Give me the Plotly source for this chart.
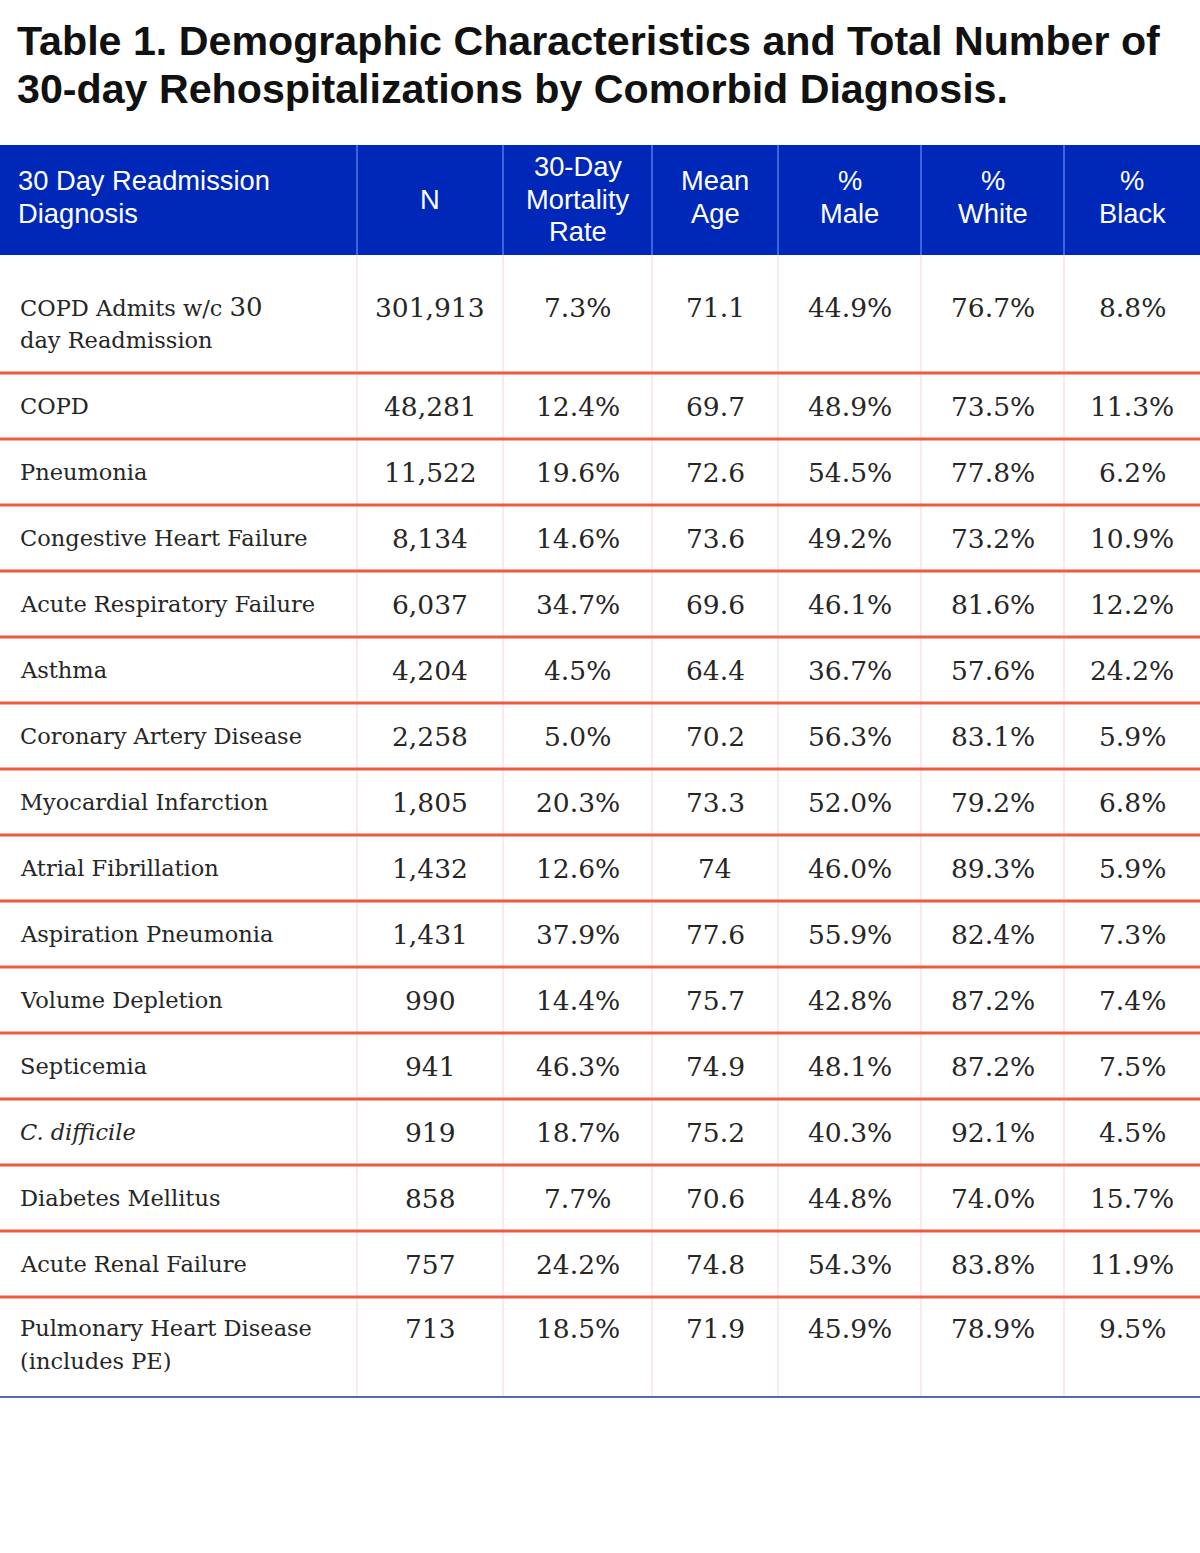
import plotly.graph_objects as go

# ---------------- data ----------------
title_lines = [
    "Table 1. Demographic Characteristics and Total Number of",
    "30-day Rehospitalizations by Comorbid Diagnosis.",
]
headers = [
    "30 Day Readmission<br>Diagnosis",
    "N",
    "30-Day<br>Mortality<br>Rate",
    "Mean<br>Age",
    "%<br>Male",
    "%<br>White",
    "%<br>Black",
]
diagnosis = [
    "COPD Admits w/c <span style=\"font-size:26px\">30</span><br>day Readmission",
    "COPD",
    "Pneumonia",
    "Congestive Heart Failure",
    "Acute Respiratory Failure",
    "Asthma",
    "Coronary Artery Disease",
    "Myocardial Infarction",
    "Atrial Fibrillation",
    "Aspiration Pneumonia",
    "Volume Depletion",
    "Septicemia",
    "<i>C. difficile</i>",
    "Diabetes Mellitus",
    "Acute Renal Failure",
    "Pulmonary Heart Disease<br>(includes PE)",
]
n_count = [301913, 48281, 11522, 8134, 6037, 4204, 2258, 1805, 1432, 1431,
           990, 941, 919, 858, 757, 713]
mortality = [7.3, 12.4, 19.6, 14.6, 34.7, 4.5, 5.0, 20.3, 12.6, 37.9,
             14.4, 46.3, 18.7, 7.7, 24.2, 18.5]
mean_age = [71.1, 69.7, 72.6, 73.6, 69.6, 64.4, 70.2, 73.3, 74, 77.6,
            75.7, 74.9, 75.2, 70.6, 74.8, 71.9]
pct_male = [44.9, 48.9, 54.5, 49.2, 46.1, 36.7, 56.3, 52.0, 46.0, 55.9,
            42.8, 48.1, 40.3, 44.8, 54.3, 45.9]
pct_white = [76.7, 73.5, 77.8, 73.2, 81.6, 57.6, 83.1, 79.2, 89.3, 82.4,
             87.2, 87.2, 92.1, 74.0, 83.8, 78.9]
pct_black = [8.8, 11.3, 6.2, 10.9, 12.2, 24.2, 5.9, 6.8, 5.9, 7.3,
             7.4, 7.5, 4.5, 15.7, 11.9, 9.5]

# ---------------- layout constants ----------------
W, H = 1200, 1553
col_edges = [0, 357, 503, 652, 778, 921, 1064, 1200]
header_top, header_bot = 145, 255
header_center = 199
header_line_h = 32.5
row_heights = [118] + [66] * 14 + [100]
first_line_offset = [52] + [33] * 14 + [31]
line_h = 33

BLUE = "#0028B8"
HEAD_VLINE = "#4F7CE8"
BODY_VLINE = "#F7DEDE"
ORANGE = "#EE5B3C"
BOTTOM = "#5568B0"
TXT = "#262626"
SANS = "Liberation Sans, Arial, sans-serif"
SERIF = "DejaVu Serif, serif"

shapes = []
annotations = []


def add_text(x, y, text, xanchor, font):
    annotations.append(dict(x=x, y=y, xref="x", yref="y", text=text,
                            showarrow=False, xanchor=xanchor, yanchor="middle",
                            font=font))


# title
for i, t in enumerate(title_lines):
    add_text(15, 41 + i * 48, "<b>%s</b>" % t, "left",
             dict(family=SANS, size=41.2, color="#111111"))

# header background
shapes.append(dict(type="rect", xref="x", yref="y", x0=0, x1=W,
                   y0=header_top, y1=header_bot, fillcolor=BLUE,
                   line=dict(width=0), layer="below"))
for xe in col_edges[1:-1]:
    shapes.append(dict(type="line", xref="x", yref="y", x0=xe, x1=xe,
                       y0=header_top, y1=header_bot,
                       line=dict(color=HEAD_VLINE, width=1.5)))

# header texts (one annotation per line for exact spacing)
hfont = dict(family=SANS, size=27.3, color="white")
for j, h in enumerate(headers):
    parts = h.split("<br>")
    n = len(parts)
    yc = header_center - (2 if n == 2 else 0)
    for k, p in enumerate(parts):
        y = yc + (k - (n - 1) / 2) * header_line_h
        if j == 0:
            add_text(16, y, p, "left", hfont)
        else:
            add_text((col_edges[j] + col_edges[j + 1]) / 2, y, p, "center", hfont)

# body rows
row_tops = [header_bot]
for rh in row_heights:
    row_tops.append(row_tops[-1] + rh)
body_bot = row_tops[-1]

for xe in col_edges[1:-1]:
    shapes.append(dict(type="line", xref="x", yref="y", x0=xe, x1=xe,
                       y0=header_bot, y1=body_bot,
                       line=dict(color=BODY_VLINE, width=1.2), layer="below"))
for yb in row_tops[1:-1]:
    shapes.append(dict(type="line", xref="x", yref="y", x0=0, x1=W,
                       y0=yb, y1=yb, line=dict(color=ORANGE, width=3)))
shapes.append(dict(type="line", xref="x", yref="y", x0=0, x1=W,
                   y0=body_bot, y1=body_bot, line=dict(color=BOTTOM, width=2)))

columns = [
    [f"{v:,}" for v in n_count],
    [f"{v:.1f}%" for v in mortality],
    [f"{v:g}" for v in mean_age],
    [f"{v:.1f}%" for v in pct_male],
    [f"{v:.1f}%" for v in pct_white],
    [f"{v:.1f}%" for v in pct_black],
]

lab_font = dict(family=SERIF, size=22.5, color=TXT)
num_font = dict(family=SERIF, size=26.5, color=TXT)
for i, lab in enumerate(diagnosis):
    y1 = row_tops[i] + first_line_offset[i]
    for k, p in enumerate(lab.split("<br>")):
        add_text(18, y1 + k * line_h, p, "left", lab_font)
    for j, col in enumerate(columns):
        cx = (col_edges[j + 1] + col_edges[j + 2]) / 2
        add_text(cx, y1, col[i], "center", num_font)

fig = go.Figure()
fig.add_trace(go.Scatter(x=[0, W], y=[0, H], mode="markers",
                         marker=dict(opacity=0), hoverinfo="skip", showlegend=False))

fig.update_layout(
    width=W, height=H, margin=dict(l=0, r=0, t=0, b=0),
    paper_bgcolor="white", plot_bgcolor="white",
    xaxis=dict(range=[0, W], visible=False, fixedrange=True),
    yaxis=dict(range=[H, 0], visible=False, fixedrange=True),
    shapes=shapes, annotations=annotations, showlegend=False,
)
fig.write_html("out.html", config={"displayModeBar": False},
               post_script="document.body.style.margin='0';")
